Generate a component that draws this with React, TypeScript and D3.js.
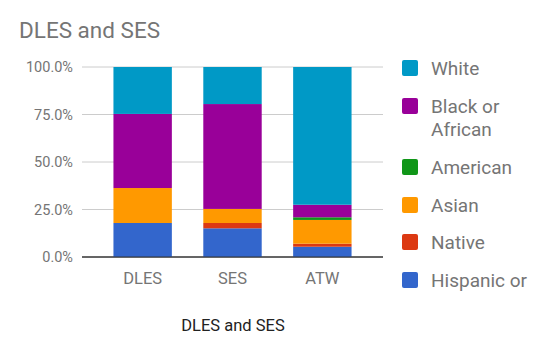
import React from "react";
import * as d3 from "d3";

const categories = ["DLES", "SES", "ATW"];
const seriesNames = ["Hispanic or", "Native", "Asian", "American", "Black or African", "White"];
const hispanic = [17.9, 15.1, 5.4];
const native = [0, 2.8, 1.6];
const asian = [18.4, 7.4, 12.5];
const american = [0, 0, 1.4];
const black = [39.0, 55.2, 6.6];
const white = [24.7, 19.5, 72.5];
const colors = ["#3366cc", "#dc3912", "#ff9900", "#109618", "#990099", "#0099c6"];
const yTicks = [0, 0.25, 0.5, 0.75, 1];
const legendOrder = [
  { lines: ["White"], color: "#0099c6" },
  { lines: ["Black or", "African"], color: "#990099" },
  { lines: ["American"], color: "#109618" },
  { lines: ["Asian"], color: "#ff9900" },
  { lines: ["Native"], color: "#dc3912" },
  { lines: ["Hispanic or"], color: "#3366cc" },
];

export default function App() {
  const W = 557, H = 350;
  const left = 82, right = 383, top = 67, bottom = 257;
  const values = [hispanic, native, asian, american, black, white];
  const rows = categories.map((c, i) => {
    const o: any = { cat: c };
    seriesNames.forEach((s, j) => (o[s] = values[j][i]));
    return o;
  });
  const stacked = d3.stack<any>().keys(seriesNames).offset(d3.stackOffsetExpand)(rows);
  const x = d3.scaleBand().domain(categories).range([left, right]).padding(0.35);
  const y = d3.scaleLinear().domain([0, 1]).range([bottom, top]);
  const font = "Roboto, sans-serif";
  const gray = "#757575";
  const legendY = [75, 113, 174, 212, 249, 287];
  return (
    <svg width={W} height={H} style={{ position: "absolute", left: 0, top: 0 }} fontFamily={font}>
      <rect width={W} height={H} fill="#fff" />
      <text x={19} y={38} fontSize={22.5} fill={gray}>DLES and SES</text>
      {yTicks.map((t) => (
        <g key={t}>
          <line x1={left} x2={right} y1={y(t)} y2={y(t)} stroke={t === 0 ? "#333" : "#ccc"} strokeWidth={1} />
          <text x={73} y={y(t) + 5} fontSize={14.5} fill={gray} textAnchor="end">
            {d3.format(".1%")(t)}
          </text>
        </g>
      ))}
      {stacked.map((s, j) => (
        <g key={s.key} fill={colors[j]}>
          {s.map((d, i) => (
            <rect
              key={i}
              x={x(categories[i])!}
              width={x.bandwidth()}
              y={y(d[1])}
              height={Math.max(0, y(d[0]) - y(d[1]))}
            />
          ))}
        </g>
      ))}
      <line x1={left} x2={right} y1={bottom} y2={bottom} stroke="#333" strokeWidth={1} />
      {categories.map((c) => (
        <text key={c} x={x(c)! + x.bandwidth() / 2} y={284} fontSize={16.5} fill={gray} textAnchor="middle">
          {c}
        </text>
      ))}
      <text x={233} y={331} fontSize={16.5} fill="#222" textAnchor="middle">DLES and SES</text>
      {legendOrder.map((l, i) => (
        <g key={i}>
          <rect x={402} y={legendY[i] - 15} width={16} height={16} rx={2} fill={l.color} />
          {l.lines.map((ln, k) => (
            <text key={k} x={431} y={legendY[i] + k * 23} fontSize={19} fill={gray}>
              {ln}
            </text>
          ))}
        </g>
      ))}
    </svg>
  );
}
